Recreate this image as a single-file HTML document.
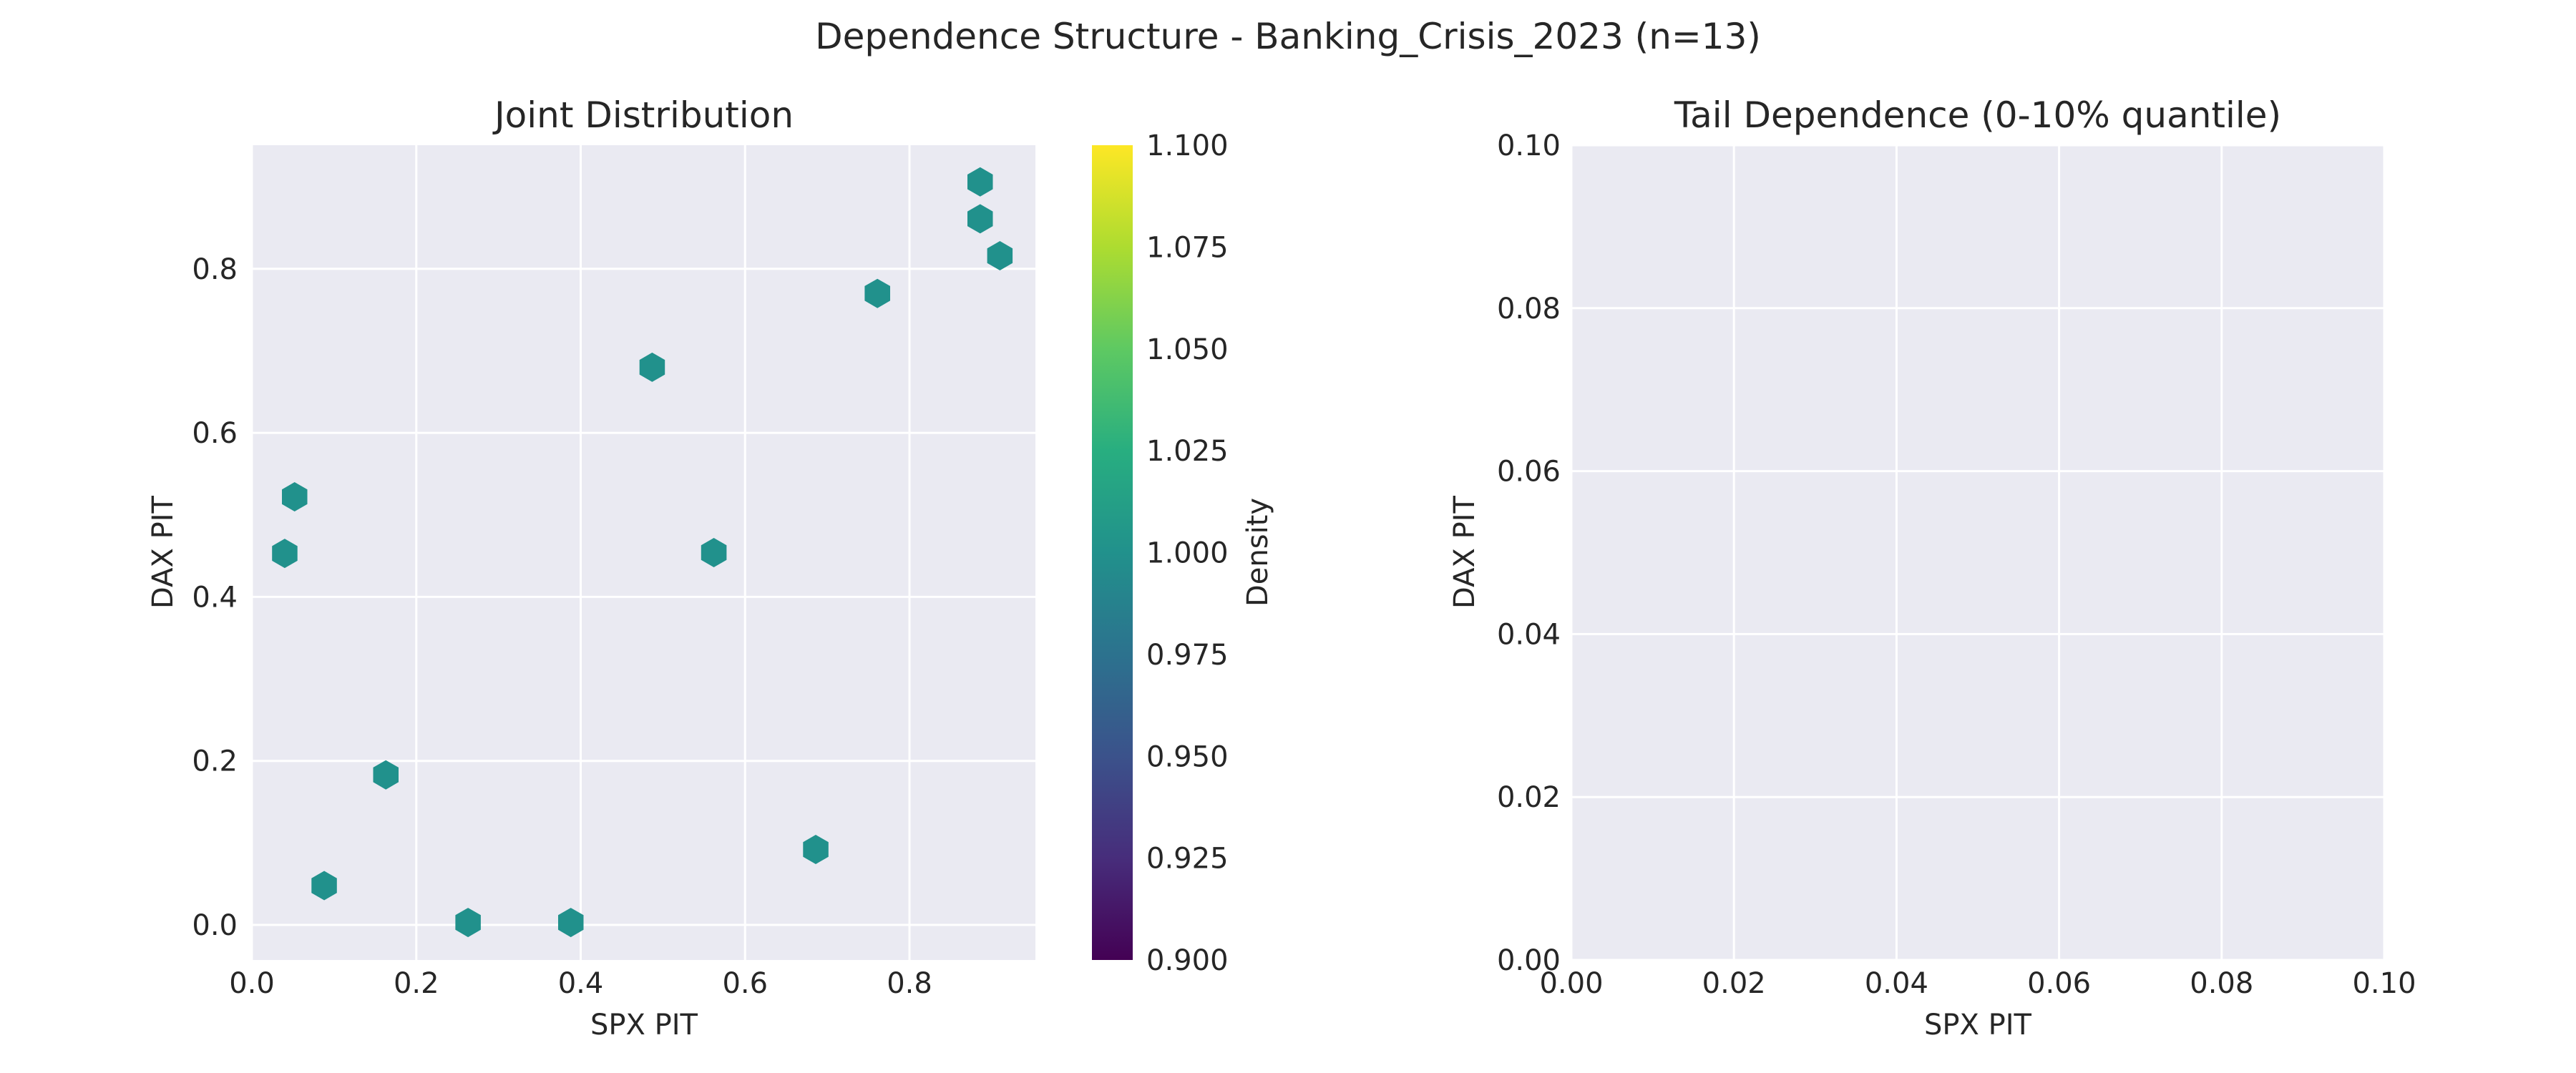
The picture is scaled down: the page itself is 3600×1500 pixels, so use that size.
<!DOCTYPE html>
<html><head><meta charset="utf-8">
<style>
html,body{margin:0;padding:0;background:#fff;}
svg{display:block;font-family:"DejaVu Sans","Liberation Sans",sans-serif;fill:#262626;}
</style></head>
<body>
<svg id="fig" width="3600" height="1500" viewBox="0 0 3600 1500" xmlns="http://www.w3.org/2000/svg">
<defs>
<linearGradient id="viridis" x1="0" y1="1" x2="0" y2="0">
<stop offset="0" stop-color="#440154"/><stop offset="0.125" stop-color="#472d7b"/>
<stop offset="0.25" stop-color="#3b528b"/><stop offset="0.375" stop-color="#2c728e"/>
<stop offset="0.5" stop-color="#21918c"/><stop offset="0.625" stop-color="#28ae80"/>
<stop offset="0.75" stop-color="#5ec962"/><stop offset="0.875" stop-color="#addc30"/>
<stop offset="1" stop-color="#fde725"/>
</linearGradient>
</defs>
<text x="1800" y="68" font-size="50" text-anchor="middle">Dependence Structure - Banking_Crisis_2023 (n=13)</text>
<g id="left"></g>
<g id="cbar"></g>
<g id="right"></g>
</svg>
<script>
const spxPit = [0.040,0.052,0.088,0.163,0.263,0.388,0.487,0.562,0.686,0.761,0.886,0.886,0.910];
const daxPit = [0.453,0.522,0.048,0.183,0.003,0.003,0.680,0.454,0.092,0.770,0.906,0.861,0.816];
const leftXTicks = [0.0,0.2,0.4,0.6,0.8];
const leftYTicks = [0.0,0.2,0.4,0.6,0.8];
const cbarTicks = [0.900,0.925,0.950,0.975,1.000,1.025,1.050,1.075,1.100];
const tailTicks = [0.00,0.02,0.04,0.06,0.08,0.10];

const NS="http://www.w3.org/2000/svg";
function mk(parent,tag,attrs,text){const e=document.createElementNS(NS,tag);for(const k in attrs)e.setAttribute(k,attrs[k]);if(text!==undefined)e.textContent=text;parent.appendChild(e);return e;}

// Left panel
const L={x0:352,x1:1447,y0:203,y1:1342};
const lxs=v=>352+v*1148.75;
const lys=v=>1293-v*1146.5;
const gl=document.getElementById('left');
const bg=mk(gl,'rect',{x:L.x0,y:L.y0,width:L.x1-L.x0,height:L.y1-L.y0,fill:'#eaeaf2'});


leftXTicks.forEach(t=>{
  const x=lxs(t);
  const g=mk(gl,'line',{x1:x,x2:x,y1:L.y0,y2:L.y1,stroke:'#fff','stroke-width':3});
  
  
  const tx=mk(gl,'text',{x:x,y:1388,'font-size':40,'text-anchor':'middle'},t.toFixed(1));
  
  
});
leftYTicks.forEach(t=>{
  const y=lys(t);
  const g=mk(gl,'line',{x1:L.x0,x2:L.x1,y1:y,y2:y,stroke:'#fff','stroke-width':3});
  
  
  const tx=mk(gl,'text',{x:332,y:y+14,'font-size':40,'text-anchor':'end'},t.toFixed(1));
  
  
});
const r=20.5;
spxPit.forEach((v,i)=>{
  const cx=lxs(v), cy=lys(daxPit[i]);
  let pts=[];
  for(let k=0;k<6;k++){const a=Math.PI/2+k*Math.PI/3;pts.push((cx+r*Math.cos(a)).toFixed(1)+','+(cy-r*Math.sin(a)).toFixed(1));}
  const h=mk(gl,'polygon',{points:pts.join(' '),fill:'#21918c'});
  
  
});
const t1=mk(gl,'text',{x:900,y:178,'font-size':50,'text-anchor':'middle'},'Joint Distribution');


const xl=mk(gl,'text',{x:900,y:1446,'font-size':40,'text-anchor':'middle'},'SPX PIT');


const yl=mk(gl,'text',{x:0,y:0,'font-size':40,'text-anchor':'middle',transform:'translate(241,772) rotate(-90)'},'DAX PIT');



// Colorbar
const gc=document.getElementById('cbar');
const cb=mk(gc,'rect',{x:1526,y:203,width:57,height:1139,fill:'url(#viridis)'});


const cys=v=>1342-(v-0.9)/0.2*1139;
cbarTicks.forEach(t=>{
  const tx=mk(gc,'text',{x:1602,y:cys(t)+14,'font-size':40},t.toFixed(3));
  
  
});
const dl=mk(gc,'text',{x:0,y:0,'font-size':40,'text-anchor':'middle',transform:'translate(1771,772) rotate(-90)'},'Density');



// Right panel
const R={x0:2196,x1:3332,y0:203,y1:1342};
const rxs=v=>R.x0+v/0.1*(R.x1-R.x0);
const rys=v=>R.y1-v/0.1*(R.y1-R.y0);
const gr=document.getElementById('right');
const bg2=mk(gr,'rect',{x:R.x0,y:R.y0,width:R.x1-R.x0,height:R.y1-R.y0,fill:'#eaeaf2'});


tailTicks.forEach(t=>{
  const x=rxs(t);
  const g=mk(gr,'line',{x1:x,x2:x,y1:R.y0,y2:R.y1,stroke:'#fff','stroke-width':3});
  
  
  const tx=mk(gr,'text',{x:x,y:1388,'font-size':40,'text-anchor':'middle'},t.toFixed(2));
  
  
  const y=rys(t);
  const g2=mk(gr,'line',{x1:R.x0,x2:R.x1,y1:y,y2:y,stroke:'#fff','stroke-width':3});
  
  
  const ty=mk(gr,'text',{x:2181,y:y+14,'font-size':40,'text-anchor':'end'},t.toFixed(2));
  
  
});
const t2=mk(gr,'text',{x:2764,y:178,'font-size':50,'text-anchor':'middle'},'Tail Dependence (0-10% quantile)');


const xl2=mk(gr,'text',{x:2764,y:1446,'font-size':40,'text-anchor':'middle'},'SPX PIT');


const yl2=mk(gr,'text',{x:0,y:0,'font-size':40,'text-anchor':'middle',transform:'translate(2060,772) rotate(-90)'},'DAX PIT');


</script>
</body></html>
